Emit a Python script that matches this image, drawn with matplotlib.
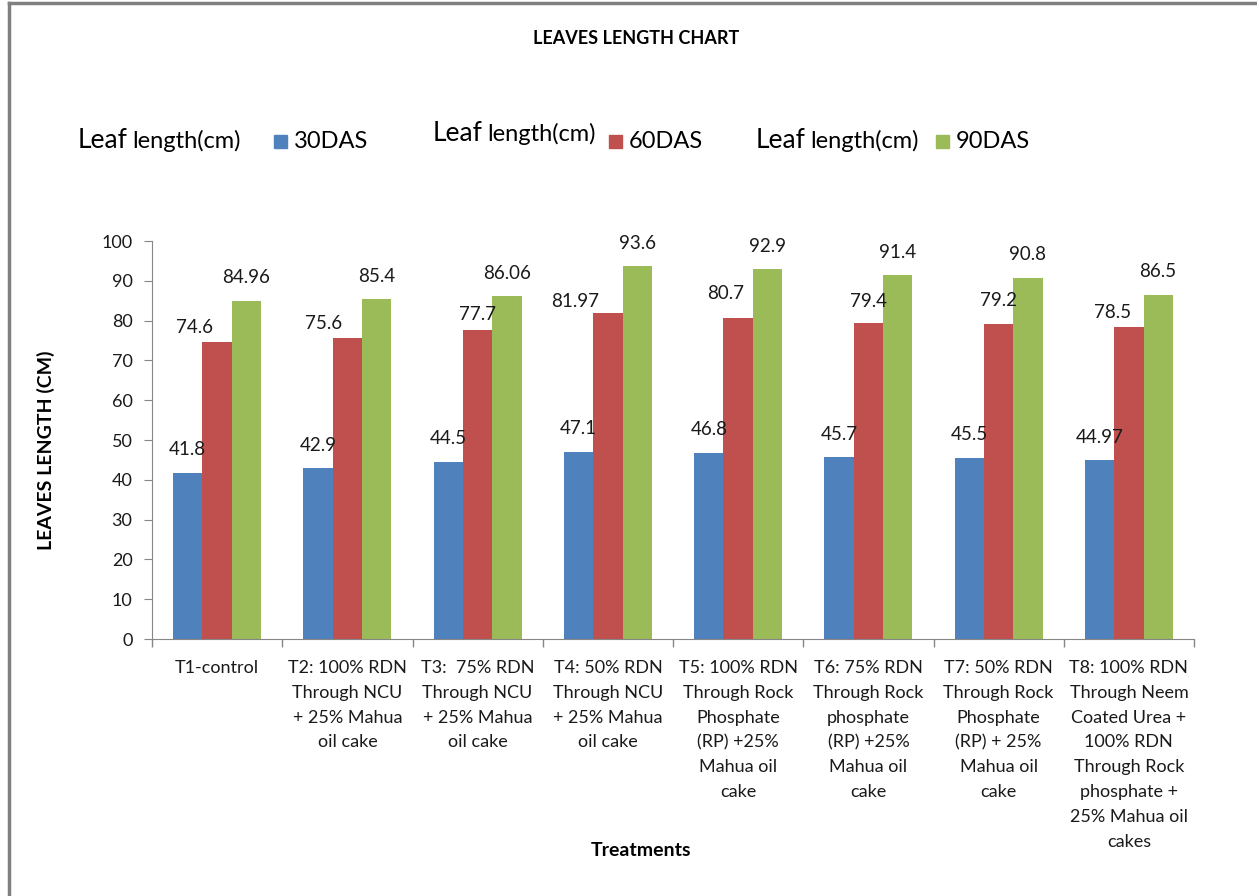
import numpy as np
import matplotlib.pyplot as plt
from matplotlib.lines import Line2D
from matplotlib.patches import Rectangle

plt.rcParams['font.family'] = ['Lato', 'DejaVu Sans']

# treatments and leaf length (cm) at each stage
treatments = [
    "T1-control",
    "T2: 100% RDN\nThrough NCU\n+ 25% Mahua\noil cake",
    "T3:  75% RDN\nThrough NCU\n+ 25% Mahua\noil cake",
    "T4: 50% RDN\nThrough NCU\n+ 25% Mahua\noil cake",
    "T5: 100% RDN\nThrough Rock\nPhosphate\n(RP) +25%\nMahua oil\ncake",
    "T6: 75% RDN\nThrough Rock\nphosphate\n(RP) +25%\nMahua oil\ncake",
    "T7: 50% RDN\nThrough Rock\nPhosphate\n(RP) + 25%\nMahua oil\ncake",
    "T8: 100% RDN\nThrough Neem\nCoated Urea +\n100% RDN\nThrough Rock\nphosphate +\n25% Mahua oil\ncakes",
]
das30 = [41.8, 42.9, 44.5, 47.1, 46.8, 45.7, 45.5, 44.97]
das60 = [74.6, 75.6, 77.7, 81.97, 80.7, 79.4, 79.2, 78.5]
das90 = [84.96, 85.4, 86.06, 93.6, 92.9, 91.4, 90.8, 86.5]
series_names = ["30DAS", "60DAS", "90DAS"]
colors = ["#4F81BD", "#C0504D", "#9BBB59"]

# label shifts (pixels) for the 60DAS labels, which sit a bit off the bars
red_dx = [-23, -24, 0, -33, -13, 0, 0, -16]
red_dy = [15, 15, 15, 11, 24, 21, 23, 14]

W, H = 1257, 896
fig = plt.figure(figsize=(W / 100, H / 100), dpi=100)


def fx(px):
    return px / W


def fy(py):
    return 1 - py / H


ax = fig.add_axes([fx(152), fy(639), fx(1194) - fx(152), fy(241) - fy(639)])

x = np.arange(len(treatments))
bw = 0.225
all_series = [das30, das60, das90]
for k, vals in enumerate(all_series):
    bars = ax.bar(x + (k - 1) * bw, vals, bw, color=colors[k], zorder=2)
    for i, b in enumerate(bars):
        dx, dy = (red_dx[i], red_dy[i]) if k == 1 else (0, 23)
        ax.annotate(f"{vals[i]:g}", (b.get_x() + b.get_width() / 2, b.get_height()),
                    xytext=(dx, dy), textcoords='offset pixels',
                    ha='center', va='center', fontsize=13.5, color='#1a1a1a')

ax.set_xlim(-0.5, len(treatments) - 0.5)
ax.set_ylim(0, 100)
ax.set_yticks(range(0, 101, 10))
ax.set_xticks(x)
ax.set_xticklabels(treatments, fontsize=13, color='#1a1a1a', linespacing=1.68, va='top')
ax.set_xticks(np.arange(-0.5, len(treatments)), minor=True)
ax.tick_params(axis='x', which='major', length=0, pad=15)
ax.tick_params(axis='x', which='minor', length=6, color='#868686', width=1)
ax.tick_params(axis='y', length=6, color='#868686', labelsize=13, labelcolor='#1a1a1a', pad=8)
for s in ['top', 'right']:
    ax.spines[s].set_visible(False)
for s in ['left', 'bottom']:
    ax.spines[s].set_color('#868686')

fig.text(fx(46), fy(450), "LEAVES LENGTH (CM)", fontsize=14, fontweight='bold',
         rotation=90, ha='center', va='center')
fig.text(fx(636), fy(38), "LEAVES LENGTH CHART", fontsize=13, fontweight='bold',
         ha='center', va='center')
fig.text(fx(641), fy(850), "Treatments", fontsize=14, fontweight='bold',
         ha='center', va='center')

# hand-placed legend entries
entries = [(78, 148, 274, 148), (433, 141, 609, 148), (756, 148, 936, 148)]
for (tx, ty, mx, my), name, c in zip(entries, series_names, colors):
    fig.text(fx(tx), fy(ty), "Leaf", fontsize=19, va='baseline', ha='left')
    fig.text(fx(tx + 54), fy(ty), "length(cm)", fontsize=17, va='baseline', ha='left')
    fig.patches.append(Rectangle((fx(mx), fy(my)), fx(13), fy(0) - fy(13),
                                 transform=fig.transFigure, color=c))
    fig.text(fx(mx + 20), fy(my), name, fontsize=17, va='baseline', ha='left')

# outer frame
fig.add_artist(Line2D([fx(9), 1], [fy(3), fy(3)], color='#808080', lw=2.5))
fig.add_artist(Line2D([fx(9), fx(9)], [0, fy(3)], color='#808080', lw=2.5))

fig.savefig("out.png", dpi=100)
